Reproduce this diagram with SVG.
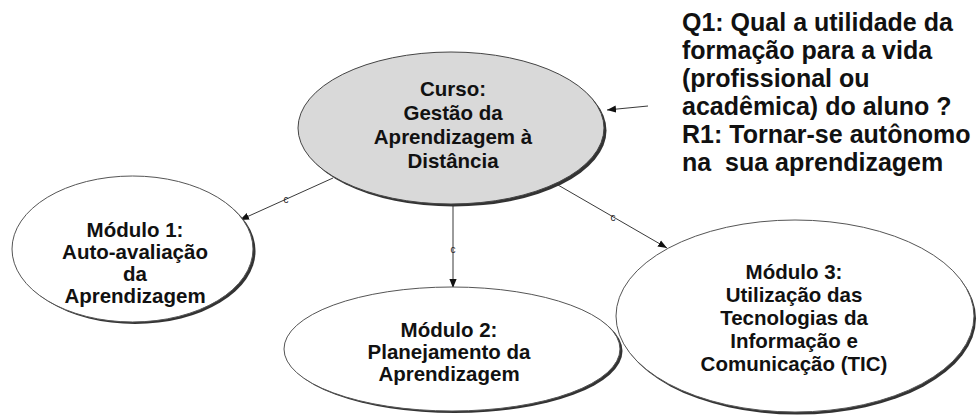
<svg xmlns="http://www.w3.org/2000/svg" width="978" height="419" viewBox="0 0 978 419">
<defs>
<style>
.shadow{fill:#333;stroke:none}
.node{fill:#ffffff;stroke:#555;stroke-width:1}
.main{fill:#d9d9d9;stroke:#444;stroke-width:1}
.t{font-family:"Liberation Sans",Arial,sans-serif;font-weight:bold;font-size:20.5px;fill:#111;text-anchor:middle}
.q{font-family:"Liberation Sans",Arial,sans-serif;font-weight:bold;font-size:25px;fill:#111}
.lbl{font-family:"Liberation Sans",Arial,sans-serif;font-size:10px;fill:#222;text-anchor:middle}
.edge{stroke:#222;stroke-width:0.9;fill:none;marker-end:url(#arr)}
</style>
<marker id="arr" viewBox="0 0 10 10" refX="10" refY="5" markerWidth="9" markerHeight="9" markerUnits="userSpaceOnUse" orient="auto">
<path d="M0,1 L10,5 L0,9 z" fill="#111"/>
</marker>
</defs>
<rect width="978" height="419" fill="#ffffff"/>

<g id="connectors">
<line class="edge" x1="333" y1="178" x2="240" y2="220"/>
<line class="edge" x1="453" y1="204" x2="453" y2="288"/>
<line class="edge" x1="558" y1="185" x2="667" y2="248"/>
<line class="edge" x1="648" y1="106" x2="607" y2="110"/>
<text class="lbl" x="286" y="203">c</text>
<text class="lbl" x="453" y="253">c</text>
<text class="lbl" x="613" y="221">c</text>
</g>

<g id="curso">
<ellipse class="shadow" cx="453.5" cy="130.5" rx="153" ry="76"/>
<ellipse class="main" cx="451" cy="128" rx="153" ry="76"/>
<text class="t" x="453" y="96">Curso:</text>
<text class="t" x="453" y="120">Gestão da</text>
<text class="t" x="453" y="144">Aprendizagem à</text>
<text class="t" x="453" y="168">Distância</text>
</g>

<g id="modulo1">
<ellipse class="shadow" cx="135" cy="251" rx="120.5" ry="73"/>
<ellipse class="node" cx="132.5" cy="249" rx="120.5" ry="73"/>
<text class="t" x="135" y="237">Módulo 1:</text>
<text class="t" x="135" y="259">Auto-avaliação</text>
<text class="t" x="135" y="281">da</text>
<text class="t" x="135" y="303">Aprendizagem</text>
</g>

<g id="modulo2">
<ellipse class="shadow" cx="454.5" cy="351" rx="168" ry="62"/>
<ellipse class="node" cx="452" cy="349" rx="168" ry="62"/>
<text class="t" x="449" y="337">Módulo 2:</text>
<text class="t" x="449" y="359">Planejamento da</text>
<text class="t" x="449" y="381">Aprendizagem</text>
</g>

<g id="modulo3">
<ellipse class="shadow" cx="797" cy="318.5" rx="179" ry="96"/>
<ellipse class="node" cx="795" cy="316" rx="179" ry="96"/>
<text class="t" x="794" y="279">Módulo 3:</text>
<text class="t" x="794" y="302">Utilização das</text>
<text class="t" x="794" y="325">Tecnologias da</text>
<text class="t" x="794" y="348">Informação e</text>
<text class="t" x="794" y="371">Comunicação (TIC)</text>
</g>

<g id="q1">
<text class="q" x="682" y="31">Q1: Qual a utilidade da</text>
<text class="q" x="682" y="59">formação para a vida</text>
<text class="q" x="682" y="87">(profissional ou</text>
<text class="q" x="682" y="115">acadêmica) do aluno ?</text>
<text class="q" x="682" y="143">R1: Tornar-se autônomo</text>
<text class="q" x="682" y="171" xml:space="preserve">na  sua aprendizagem</text>
</g>
</svg>
